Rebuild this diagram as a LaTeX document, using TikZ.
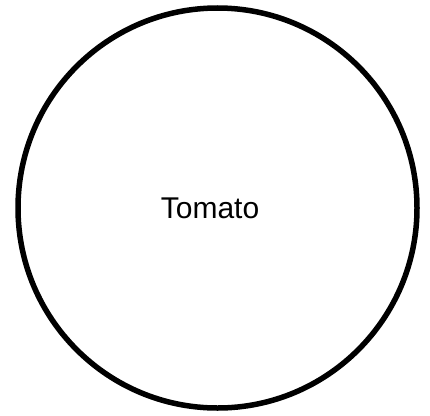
\documentclass[tikz,border=0pt]{standalone}
\usepackage{fontspec}
\setmainfont{Liberation Sans}
\begin{document}
\begin{tikzpicture}[x=1pt, y=-1pt, every node/.style={font=\fontsize{30}{35}\selectfont}]
\useasboundingbox (0,0) rectangle (430,415);
\coordinate (mid) at (217.5,208);
% outline of the tomato
\draw[line width=5.5pt] (mid) ellipse [x radius=199.5, y radius=200];
\node (tomato) at (210,208) {Tomato};
\end{tikzpicture}
\end{document}
